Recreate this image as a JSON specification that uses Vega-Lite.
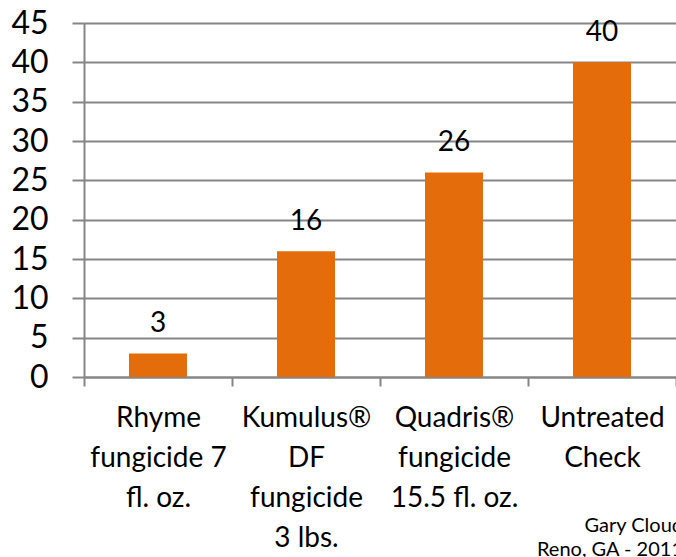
{
  "$schema": "https://vega.github.io/schema/vega-lite/v6.json",
  "width": 592,
  "height": 354,
  "autosize": {"type": "none"},
  "padding": {"left": 84, "top": 23, "right": 0, "bottom": 180},
  "background": "white",
  "title": {
    "text": ["Gary Cloud", "Reno, GA - 2011"],
    "orient": "bottom",
    "anchor": "end",
    "frame": "group",
    "align": "right",
    "baseline": "top",
    "fontSize": 20,
    "font": "Lato",
    "fontWeight": "normal",
    "color": "#000000",
    "lineHeight": 24,
    "offset": -36,
    "dx": 7
  },
  "data": {
    "values": [
      {"treatment": "Rhyme\nfungicide 7\nfl. oz.", "rating": 3},
      {"treatment": "Kumulus®\nDF\nfungicide\n3 lbs.", "rating": 16},
      {"treatment": "Quadris®\nfungicide\n15.5 fl. oz.", "rating": 26},
      {"treatment": "Untreated\nCheck", "rating": 40}
    ]
  },
  "encoding": {
    "x": {
      "field": "treatment",
      "type": "nominal",
      "sort": null,
      "scale": {"paddingInner": 0, "paddingOuter": 0},
      "axis": {
        "title": null,
        "labelAngle": 0,
        "grid": false,
        "tickBand": "extent",
        "tickSize": 9,
        "tickColor": "#868686",
        "tickWidth": 2,
        "domainColor": "#868686",
        "domainWidth": 2,
        "labelFont": "Lato",
        "labelFontSize": 28,
        "labelColor": "#000000",
        "labelLineHeight": 40,
        "labelPadding": 18,
        "labelLimit": 300,
        "labelExpr": "split(datum.label, '\\n')"
      }
    },
    "y": {
      "field": "rating",
      "type": "quantitative",
      "scale": {"domain": [0, 45], "nice": false},
      "axis": {
        "title": null,
        "values": [0, 5, 10, 15, 20, 25, 30, 35, 40, 45],
        "grid": true,
        "gridColor": "#868686",
        "gridWidth": 2,
        "domainColor": "#868686",
        "domainWidth": 2,
        "tickSize": 12,
        "tickColor": "#868686",
        "tickWidth": 2,
        "labelFont": "Lato",
        "labelFontSize": 32,
        "labelColor": "#000000",
        "labelPadding": 24
      }
    }
  },
  "layer": [
    {"mark": {"type": "bar", "color": "#E46C0A", "width": 58}},
    {
      "mark": {"type": "text", "baseline": "alphabetic", "dy": -21, "fontSize": 28, "font": "Lato", "color": "#000000"},
      "encoding": {"text": {"field": "rating", "type": "quantitative"}}
    }
  ],
  "config": {"view": {"stroke": null}}
}
